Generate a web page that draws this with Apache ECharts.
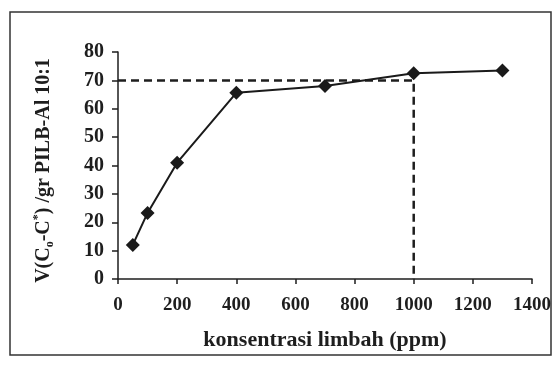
<!DOCTYPE html>
<html><head><meta charset="utf-8">
<script src="https://cdn.jsdelivr.net/npm/echarts@6/dist/echarts.min.js"></script>
<style>html,body{margin:0;padding:0;background:#fff}#c{width:554px;height:365px}</style>
</head><body><div id="c"></div>
<script>
var xValues = [50, 100, 200, 400, 700, 1000, 1300];
var yValues = [12, 23.3, 41, 65.6, 68, 72.5, 73.5];
var refX = [0, 1000, 1000];
var refY = [70, 70, 0];
var xTicks = [0, 200, 400, 600, 800, 1000, 1200, 1400];
var yTicks = [0, 10, 20, 30, 40, 50, 60, 70, 80];

var font = '"Liberation Serif", "Times New Roman", serif';
var ink = '#1e1e1e';
var chart = echarts.init(document.getElementById('c'));
chart.setOption({
  animation: false,
  backgroundColor: '#fff',
  graphic: [{
    type: 'rect', shape: {x: 10, y: 12, width: 541, height: 343},
    style: {fill: 'none', stroke: '#333', lineWidth: 1.5}, z: -1
  }],
  grid: {left: 118, right: 21, top: 52, bottom: 86},
  xAxis: {
    type: 'value', min: xTicks[0], max: xTicks[xTicks.length - 1], interval: 200,
    splitLine: {show: false},
    axisLine: {lineStyle: {color: ink, width: 1.5}},
    axisTick: {show: true, inside: false, length: 5, lineStyle: {color: ink, width: 1.5}},
    axisLabel: {color: ink, fontFamily: font, fontSize: 19, fontWeight: 'bold', margin: 17,
      formatter: function (v) { return String(v); }},
    name: 'konsentrasi limbah (ppm)', nameLocation: 'middle', nameGap: 50,
    nameTextStyle: {color: ink, fontFamily: font, fontSize: 22, fontWeight: 'bold'}
  },
  yAxis: {
    type: 'value', min: yTicks[0], max: yTicks[yTicks.length - 1], interval: 10,
    splitLine: {show: false},
    axisLine: {show: true, lineStyle: {color: ink, width: 1.5}},
    axisTick: {show: true, inside: false, length: 6, lineStyle: {color: ink, width: 1.5}},
    axisLabel: {color: ink, fontFamily: font, fontSize: 20, fontWeight: 'bold', margin: 14},
    name: '{n|V(C}{sub|o}{n|-C}{sup|*}{n|) /gr PILB-Al 10:1}', nameLocation: 'middle', nameGap: 62,
    nameTextStyle: {
      color: ink, fontFamily: font, fontSize: 20, fontWeight: 'bold', padding: [0, 10, 0, 0],
      rich: {
        n: {fontFamily: font, fontSize: 20, fontWeight: 'bold', color: ink, lineHeight: 24},
        sub: {fontFamily: font, fontSize: 12, fontWeight: 'bold', color: ink, verticalAlign: 'bottom', lineHeight: 16, padding: [9, 0, 0, 0]},
        sup: {fontFamily: font, fontSize: 12, fontWeight: 'bold', color: ink, verticalAlign: 'top', lineHeight: 16, padding: [0, 0, 9, 0]}
      }
    }
  },
  series: [{
    type: 'line',
    data: refX.map(function (x, i) { return [x, refY[i]]; }),
    showSymbol: false, symbol: 'none',
    lineStyle: {color: ink, width: 2.5, type: [8, 5]},
    z: 1
  }, {
    type: 'line',
    data: xValues.map(function (x, i) { return [x, yValues[i]]; }),
    symbol: 'diamond', symbolSize: 14,
    itemStyle: {color: '#1a1a1a'},
    lineStyle: {color: '#1a1a1a', width: 2},
    z: 3
  }]
});
</script></body></html>
